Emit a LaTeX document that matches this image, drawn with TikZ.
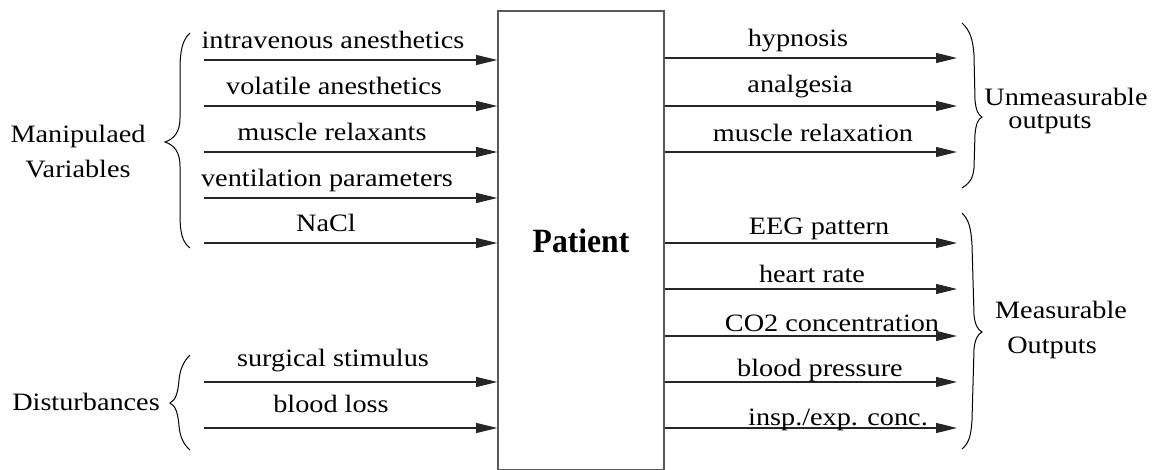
\documentclass[tikz,border=0pt]{standalone}
\usepackage{fontspec}
\setmainfont{Liberation Serif}
\usepackage{graphicx}
\usetikzlibrary{arrows.meta}
% labels are set slightly wide
\newcommand\wide[1]{\scalebox{1.13}[1]{#1}}
\begin{document}
\begin{tikzpicture}[x=1pt,y=-1pt,
  lbl/.style={anchor=base,inner sep=0pt,font=\fontsize{25}{28}\selectfont},
  flow/.style={draw=black!85,line width=1.2pt,-{Triangle[length=21pt,width=10pt]}},
  curly/.style={draw=black,line width=1pt},
  box/.style={draw=black!65,line width=1.6pt,minimum width=166pt,minimum height=459pt,
    inner sep=0pt,font=\bfseries\fontsize{34}{40}\selectfont}]
\useasboundingbox (0,0) rectangle (1160,470);
\clip (0,0) rectangle (1160,470);

% the plant
\node[box] (patient) at (581,240.5) {\scalebox{0.93}[1]{Patient}};

% inputs
\coordinate (u1) at (204,60);
\coordinate (u2) at (204,106);
\coordinate (u3) at (204,152);
\coordinate (u4) at (204,198);
\coordinate (u5) at (204,243);
\coordinate (d1) at (204,382);
\coordinate (d2) at (204,428);
\foreach \c in {u1,u2,u3,u4,u5,d1,d2}
  \draw[flow] (\c) -- (\c -| patient.west);

\node[lbl] (lu1) at (333,49)  {\wide{intravenous anesthetics}};
\node[lbl] (lu2) at (334,95)  {\wide{volatile anesthetics}};
\node[lbl] (lu3) at (332,141) {\wide{muscle relaxants}};
\node[lbl] (lu4) at (327,187) {\wide{ventilation parameters}};
\node[lbl] (lu5) at (326,232) {\wide{NaCl}};
\node[lbl] (ld1) at (333,367) {\wide{surgical stimulus}};
\node[lbl] (ld2) at (331,413) {\wide{blood loss}};

% outputs
\coordinate (y1) at (957,58);
\coordinate (y2) at (957,106);
\coordinate (y3) at (957,152);
\coordinate (m1) at (957,243);
\coordinate (m2) at (957,289);
\coordinate (m3) at (957,336);
\coordinate (m4) at (957,382);
\coordinate (m5) at (957,428);
\foreach \c in {y1,y2,y3,m1,m2,m3,m4,m5}
  \draw[flow] (patient.east |- \c) -- (\c);

\node[lbl] (ly1) at (798,47)  {\wide{hypnosis}};
\node[lbl] (ly2) at (800,93)  {\wide{analgesia}};
\node[lbl] (ly3) at (813,142) {\wide{muscle relaxation}};
\node[lbl] (lm1) at (819,235) {\wide{EEG pattern}};
\node[lbl] (lm2) at (812,283) {\wide{heart rate}};
\node[lbl] (lm3) at (832,332) {\wide{CO2 concentration}};
\node[lbl] (lm4) at (820,377) {\wide{blood pressure}};
\node[lbl] (lm5) at (838,425) {\wide{insp./exp. conc.}};

% group braces
\draw[curly] (190,33) .. controls (182,40) and (180,52) .. (180,70) -- (180,118)
  .. controls (180,132) and (174,139) .. (165,142)
  .. controls (174,145) and (180,152) .. (180,166) -- (180,214)
  .. controls (180,232) and (182,242) .. (190,248);
\draw[curly] (190,355) .. controls (183,362) and (180,370) .. (179,380)
  .. controls (178,392) and (176,400) .. (170,403)
  .. controls (176,406) and (178,414) .. (179,426)
  .. controls (180,436) and (183,444) .. (190,450);
\draw[curly] (962,23) .. controls (970,30) and (973,40) .. (974,55) -- (975,100)
  .. controls (976,110) and (978,115) .. (982,117)
  .. controls (978,119) and (976,124) .. (975,134) -- (974,168)
  .. controls (973,178) and (970,183) .. (962,188);
\draw[curly] (962,213) .. controls (969,220) and (971,228) .. (972,245) -- (974,315)
  .. controls (975,325) and (978,330) .. (982,332)
  .. controls (978,334) and (975,339) .. (974,349) -- (972,420)
  .. controls (971,436) and (969,443) .. (962,449);

% group names
\node[lbl] (g1a) at (78,143)   {\wide{Manipulaed}};
\node[lbl] (g1b) at (78,178)   {\wide{Variables}};
\node[lbl] (g2)  at (86,410)   {\wide{Disturbances}};
\node[lbl] (g3a) at (1066,106) {\wide{Unmeasurable}};
\node[lbl] (g3b) at (1050,129) {\wide{outputs}};
\node[lbl] (g4a) at (1061,319) {\wide{Measurable}};
\node[lbl] (g4b) at (1052,354) {\wide{Outputs}};
\end{tikzpicture}
\end{document}
